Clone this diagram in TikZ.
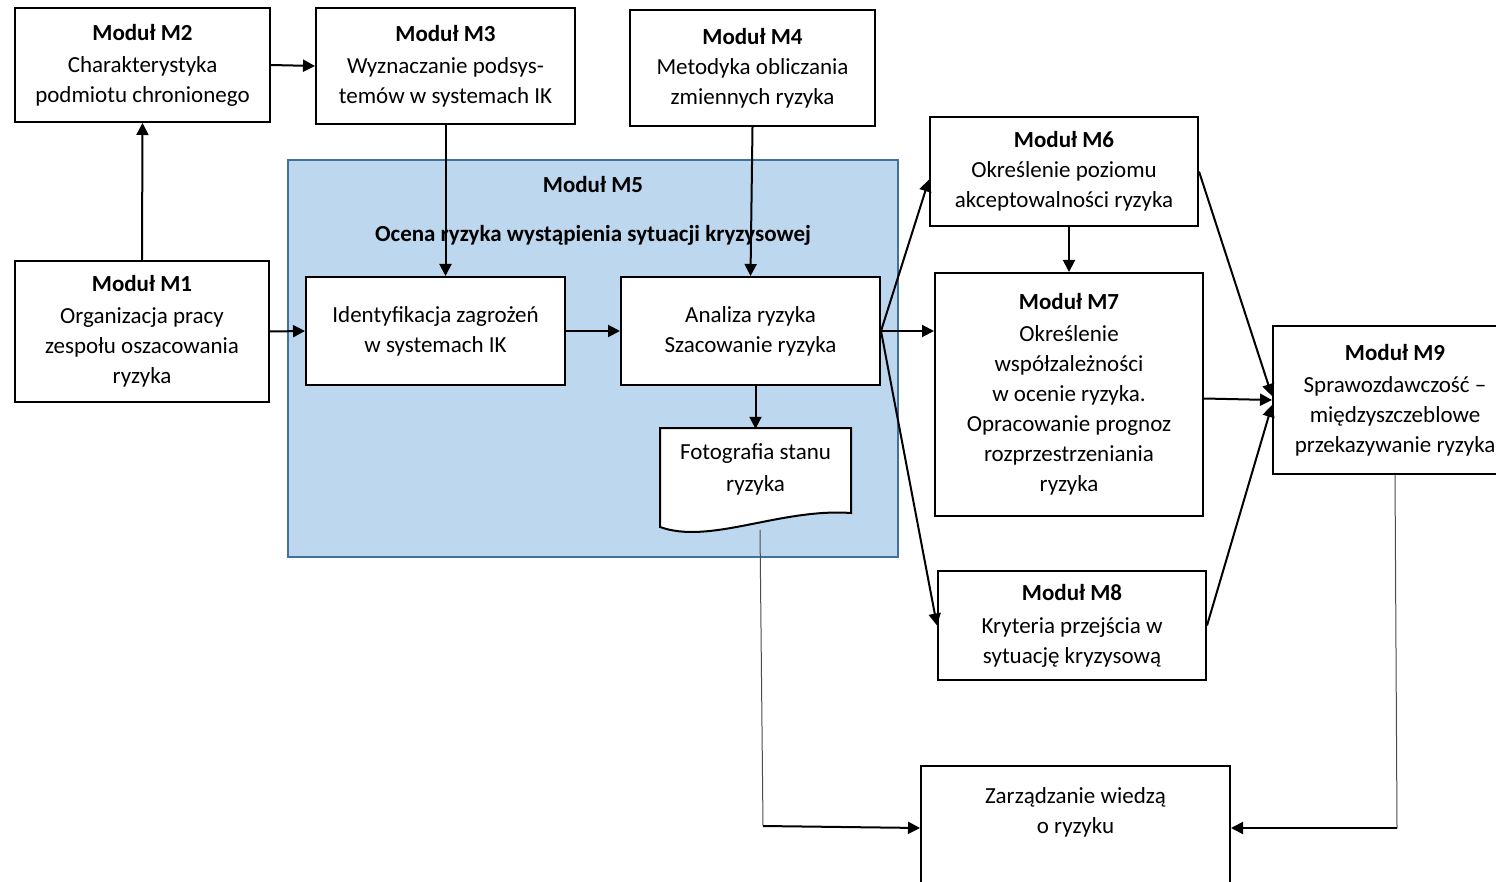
\documentclass[tikz,border=0pt]{standalone}
\usepackage{fontspec}
\setmainfont{Carlito}
\usepackage{tikz}
\usetikzlibrary{arrows.meta}

\definecolor{ocenafill}{RGB}{189,215,238}
\definecolor{ocenaline}{RGB}{65,113,156}

\begin{document}
\begin{tikzpicture}[x=1pt,y=-1pt,
  modul/.style={draw,line width=2pt,fill=white,align=center,inner sep=2pt,font=\fontsize{23}{30}\selectfont},
  plain/.style={align=center,font=\fontsize{23}{30}\selectfont},
  strz/.style={line width=2pt,-{Triangle[length=12pt,width=12pt]}},
  cienka/.style={line width=1pt,black!70}]

\useasboundingbox (0,0) rectangle (1496,882);

% modul M5 (tlo)
\node[draw=ocenaline,fill=ocenafill,line width=1.6pt,minimum width=610pt,minimum height=397pt] (m5) at (593,358.5) {};
\node[plain,font=\fontsize{23}{30}\selectfont\bfseries] (m5tyt) at (593,185) {Moduł M5};
\node[plain,font=\fontsize{23}{30}\selectfont\bfseries] (m5opis) at (593,235) {Ocena ryzyka wystąpienia sytuacji kryzysowej};

% moduly
\node[modul,minimum width=255pt,minimum height=114pt] (m2) at (142.5,65) {\textbf{Moduł M2}\\[2pt]Charakterystyka\\podmiotu chronionego};
\node[modul,minimum width=259pt,minimum height=116pt] (m3) at (445.5,66) {\textbf{Moduł M3}\\[2pt]Wyznaczanie podsys-\\temów w systemach IK};
\node[modul,minimum width=245pt,minimum height=116pt] (m4) at (752.5,68) {\textbf{Moduł M4}\\Metodyka obliczania\\zmiennych ryzyka};
\node[modul,minimum width=254pt,minimum height=141pt] (m1) at (142,331.5) {\textbf{Moduł M1}\\[2pt]Organizacja pracy\\zespołu oszacowania\\ryzyka};
\node[modul,minimum width=259pt,minimum height=108pt] (ident) at (435.5,331) {Identyfikacja zagrożeń\\w systemach IK};
\node[modul,minimum width=259pt,minimum height=108pt] (ana) at (750.5,331) {Analiza ryzyka\\Szacowanie ryzyka};
\node[modul,minimum width=268pt,minimum height=109pt] (m6) at (1064,171.5) {\textbf{Moduł M6}\\Określenie poziomu\\akceptowalności ryzyka};
\node[modul,minimum width=268pt,minimum height=243pt] (m7) at (1069,394.5) {\textbf{Moduł M7}\\[2pt]Określenie\\współzależności\\w ocenie ryzyka.\\Opracowanie prognoz\\rozprzestrzeniania\\ryzyka};
\node[modul,minimum width=268pt,minimum height=109pt] (m8) at (1072,625.5) {\textbf{Moduł M8}\\[3pt]Kryteria przejścia w\\sytuację kryzysową};
\node[modul,minimum width=244pt,minimum height=148pt] (m9) at (1395,400) {\textbf{Moduł M9}\\[2pt]Sprawozdawczość –\\międzyszczeblowe\\przekazywanie ryzyka};
\node[modul,minimum width=309pt,minimum height=120pt] (zw) at (1075.5,826) {Zarządzanie wiedzą\\o ryzyku\\~};

% dokument
\draw[line width=2pt,fill=white] (660,428) -- (851,428) -- (851,513)
  .. controls (780,508) and (710,545) .. (660,527) -- cycle;
\node[plain,minimum width=191pt,minimum height=80pt] (fot) at (755.5,469) {Fotografia stanu\\[2pt]ryzyka};
\coordinate (fotb) at (760,530);
\coordinate (fotz) at (763,826);
\coordinate (m9z) at (1397,828);

% strzalki
\draw[strz] (m1.north) -- (m2.south);
\draw[strz] (m2.east) -- (m3.west);
\draw[strz] (m3.south) -- (m3.south |- ident.north);
\draw[strz] (m4.south) -- (ana.north);
\draw[strz] (m1.east) -- (ident.west);
\draw[strz] (ident.east) -- (ana.west);
\draw[strz] (fot.north |- ana.south) -- (fot.north);
\draw[strz] (ana.east) -- ([yshift=-8pt]m6.west);
\draw[strz] (ana.east) -- (ana.east -| m7.west);
\draw[strz] (ana.east) -- (m8.west);
\draw[strz] (m6.south -| m7.north) -- (m7.north);
\draw[strz] (m6.east) -- ([yshift=4pt]m9.west);
\draw[strz] ([yshift=-4pt]m7.east) -- (m9.west);
\draw[strz] (m8.east) -- ([yshift=-5pt]m9.west);

% do zarzadzania wiedza
\draw[cienka] (fotb) -- (fotz);
\draw[strz] (fotz) -- ([yshift=-2pt]zw.west);
\draw[cienka] (m9.south) -- (m9z);
\draw[strz] (m9z) -- ([yshift=-2pt]zw.east);

\end{tikzpicture}
\end{document}
